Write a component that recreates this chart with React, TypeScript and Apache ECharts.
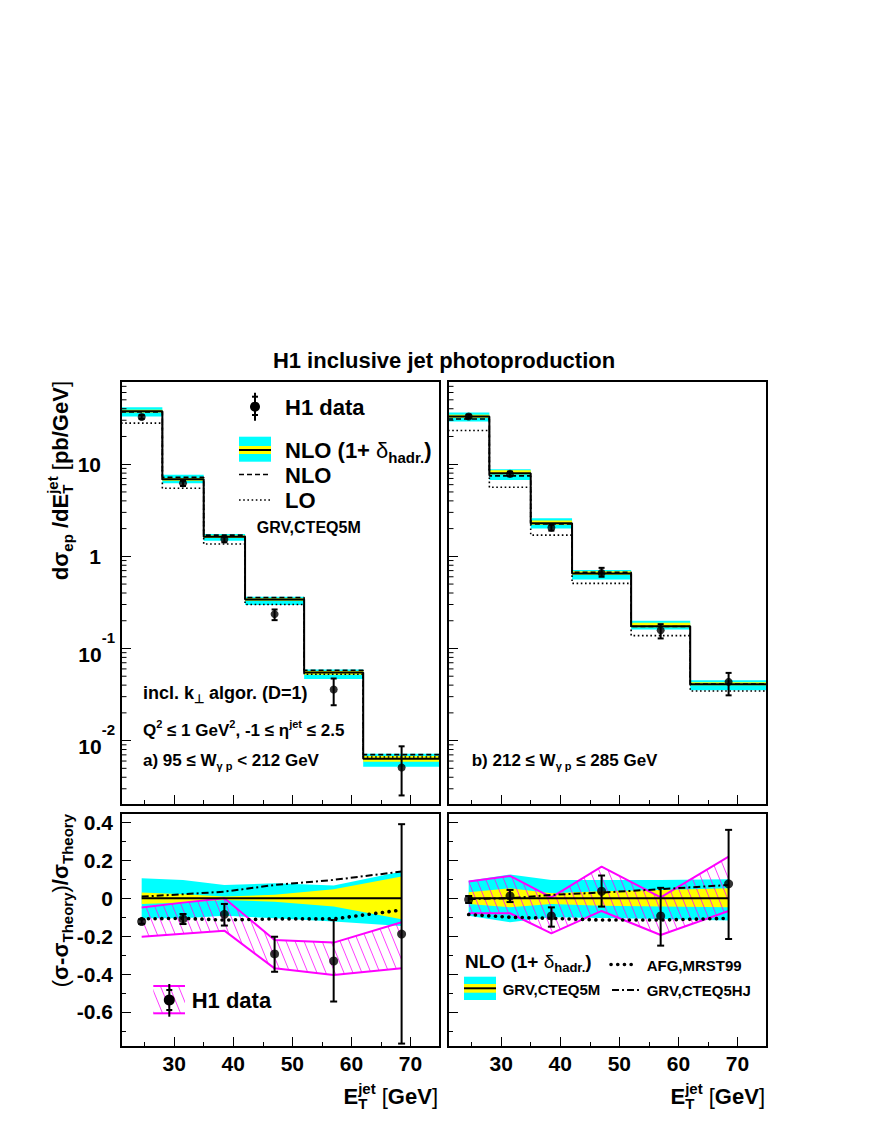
import React, { useEffect, useRef } from 'react';
import * as echarts from 'echarts';

const FONT = '"Liberation Sans", Arial, Helvetica, sans-serif';
const CYAN = '#00ffff';
const YELLOW = '#ffff00';
const MAGENTA = '#ff00ff';

// ---------- data ----------
const EDGES = [21, 28, 35, 42, 52, 62, 75];
const XPTS = [24.5, 31.5, 38.5, 47, 57, 68.5];
const X_MAJOR = [30, 40, 50, 60, 70];
const X_MINOR = [25, 35, 45, 55, 65];
const R_MAJOR = [-0.6, -0.4, -0.2, 0, 0.2, 0.4];
const R_MINOR = [-0.7, -0.5, -0.3, -0.1, 0.1, 0.3];
const LOG_DECADES = [0.001, 0.01, 0.1, 1, 10];
const LOG_MULT = [2, 3, 4, 5, 6, 7, 8, 9];
const X_MIN = 21, X_MAX = 75;
const LOG_MIN = 0.002, LOG_MAX = 80;
const R_MIN = -0.785, R_MAX = 0.45;

// a) 95 <= W < 212 GeV
const A_NLOHAD = [37.5, 6.87, 1.63, 0.341, 0.0548, 0.00637];
const A_CYAN_LO = [33.0, 6.2, 1.48, 0.296, 0.0465, 0.0052];
const A_CYAN_HI = [41.5, 7.66, 1.75, 0.364, 0.059, 0.0072];
const A_YEL_LO = [36.5, 6.6, 1.58, 0.33, 0.052, 0.0059];
const A_YEL_HI = [39.0, 7.1, 1.68, 0.35, 0.057, 0.0068];
const A_NLO = [37.0, 7.2, 1.70, 0.358, 0.058, 0.00705];
const A_LO = [27.9, 5.48, 1.36, 0.30, 0.0525, 0.00664];
const A_DATA = [32.6, 6.2, 1.53, 0.236, 0.0358, 0.0051];
const A_ERR_LO = [31.0, 5.8, 1.42, 0.203, 0.0242, 0.00254];
const A_ERR_HI = [34.2, 6.6, 1.64, 0.265, 0.0472, 0.00867];

// b) 212 <= W <= 285 GeV
const B_NLOHAD = [32.9, 7.98, 2.28, 0.653, 0.1746, 0.0409];
const B_CYAN_LO = [29.0, 6.75, 2.01, 0.562, 0.161, 0.0352];
const B_CYAN_HI = [36.4, 8.83, 2.59, 0.71, 0.1995, 0.0452];
const B_YEL_LO = [32.0, 7.8, 2.2, 0.63, 0.17, 0.040];
const B_YEL_HI = [34.5, 8.6, 2.45, 0.69, 0.19, 0.043];
const B_NLO = [31.0, 7.47, 2.24, 0.67, 0.173, 0.0412];
const B_LO = [23.2, 5.62, 1.70, 0.509, 0.138, 0.0346];
const B_DATA = [32.9, 7.85, 2.05, 0.66, 0.158, 0.0434];
const B_ERR_LO = [31.5, 7.4, 1.9, 0.6, 0.1285, 0.031];
const B_ERR_HI = [34.5, 8.3, 2.2, 0.75, 0.1835, 0.0543];

// ratio panels
const REF_ZERO = [0, 0, 0, 0, 0, 0];
const C_CYAN_HI = [0.106, 0.097, 0.07, 0.079, 0.067, 0.141];
const C_CYAN_LO = [-0.106, -0.106, -0.092, -0.106, -0.123, -0.146];
const C_YEL_HI = [0.03, 0.021, 0.009, 0.018, 0.048, 0.115];
const C_YEL_LO = [-0.03, -0.023, -0.009, -0.018, -0.044, -0.111];
const C_HJ = [0.009, 0.021, 0.035, 0.07, 0.097, 0.141];
const C_AFG = [-0.109, -0.106, -0.115, -0.109, -0.109, -0.062];
const C_DATA = [-0.123, -0.109, -0.085, -0.294, -0.331, -0.189];
const C_ERR_LO = [-0.135, -0.136, -0.144, -0.388, -0.545, -0.767];
const C_ERR_HI = [-0.111, -0.083, -0.03, -0.203, -0.115, 0.391];
const C_SYS_HI = [-0.049, -0.023, 0.0, -0.22, -0.234, -0.127];
const C_SYS_LO = [-0.203, -0.187, -0.171, -0.37, -0.405, -0.37];

const D_CYAN_HI = [0.093, 0.125, 0.097, 0.097, 0.097, 0.1];
const D_CYAN_LO = [-0.092, -0.127, -0.1, -0.104, -0.109, -0.118];
const D_YEL_HI = [0.032, 0.053, 0.026, 0.037, 0.044, 0.053];
const D_YEL_LO = [-0.03, -0.048, -0.03, -0.039, -0.044, -0.048];
const D_HJ = [-0.004, 0.0, 0.018, 0.03, 0.048, 0.07];
const D_AFG = [-0.086, -0.1, -0.106, -0.115, -0.115, -0.106];
const D_DATA = [-0.007, 0.012, -0.093, 0.037, -0.093, 0.076];
const D_ERR_LO = [-0.025, -0.02, -0.15, -0.044, -0.25, -0.215];
const D_ERR_HI = [0.012, 0.044, -0.048, 0.12, 0.055, 0.361];
const D_SYS_HI = [0.088, 0.118, 0.005, 0.167, 0.005, 0.22];
const D_SYS_LO = [-0.079, -0.079, -0.185, -0.067, -0.194, -0.067];

// ---------- layout ----------
const GRIDS = [
  { left: 121, top: 381, width: 319, height: 424 },
  { left: 448, top: 381, width: 319, height: 424 },
  { left: 121, top: 813, width: 319, height: 234 },
  { left: 448, top: 813, width: 319, height: 234 },
];

let mctx: CanvasRenderingContext2D | null = null;
function fontStr(size: number, bold: boolean) {
  return `${bold ? 'bold ' : ''}${size}px ${FONT}`;
}
function tw(t: string, size: number, bold: boolean) {
  if (!mctx) mctx = document.createElement('canvas').getContext('2d');
  mctx!.font = fontStr(size, bold);
  return mctx!.measureText(t).width;
}

type Run = { t: string; s: number; dy?: number; stack?: boolean; bold?: boolean };
function runText(runs: Run[], x: number, y: number, anchor: 'left' | 'right' | 'center' = 'left', rotate = false): any {
  const children: any[] = [];
  let cur = 0, lastStart = 0, lastW = 0;
  for (const r of runs) {
    const bold = r.bold !== false;
    const w = tw(r.t, r.s, bold);
    let px: number;
    if (r.stack) {
      px = lastStart;
      const m = Math.max(lastW, w);
      cur = lastStart + m;
      lastW = m;
    } else {
      px = cur;
      lastStart = cur;
      lastW = w;
      cur += w;
    }
    children.push({
      type: 'text', x: px, y: r.dy || 0,
      style: {
        text: r.t, font: fontStr(r.s, bold), fill: '#000',
        textAlign: 'left', textVerticalAlign: 'middle', align: 'left', verticalAlign: 'middle',
      },
    });
  }
  const off = anchor === 'right' ? -cur : anchor === 'center' ? -cur / 2 : 0;
  children.forEach((c) => (c.x += off));
  return { type: 'group', x, y, rotation: rotate ? Math.PI / 2 : 0, z: 100, children };
}

function histo(vals: number[]) {
  const pts: number[][] = [];
  vals.forEach((v, i) => {
    pts.push([EDGES[i], v], [EDGES[i + 1], v]);
  });
  return pts;
}

function makeHatch() {
  const w = 9, h = 22;
  const c = document.createElement('canvas');
  c.width = w;
  c.height = h;
  const g = c.getContext('2d')!;
  g.strokeStyle = 'rgba(255,0,255,0.85)';
  g.lineWidth = 0.9;
  for (const o of [-w, 0, w]) {
    g.beginPath();
    g.moveTo(o, 0);
    g.lineTo(o + w, h);
    g.stroke();
  }
  return { image: c.toDataURL(), repeat: 'repeat', imageWidth: w, imageHeight: h };
}

const TICK_STYLE = { color: '#000', width: 1 };
const LABEL_BASE = { color: '#000', fontFamily: FONT, fontWeight: 'bold', fontSize: 21 };

function errBars(xi: number, yi: number, lo: number[], hi: number[], cap: number) {
  return {
    type: 'custom', xAxisIndex: xi, yAxisIndex: yi, z: 8, clip: true,
    data: XPTS.map((x, i) => [x, lo[i], hi[i]]),
    encode: { x: 0, y: [1, 2] },
    renderItem: (_p: any, api: any) => {
      const x = api.value(0);
      const a = api.coord([x, api.value(1)]);
      const b = api.coord([x, api.value(2)]);
      const st = { stroke: '#000', lineWidth: 2 };
      return {
        type: 'group',
        children: [
          { type: 'line', shape: { x1: a[0], y1: a[1], x2: b[0], y2: b[1] }, style: st },
          { type: 'line', shape: { x1: a[0] - cap, y1: a[1], x2: a[0] + cap, y2: a[1] }, style: st },
          { type: 'line', shape: { x1: b[0] - cap, y1: b[1], x2: b[0] + cap, y2: b[1] }, style: st },
        ],
      };
    },
  };
}

function topSeries(gi: number, yi: number, d: any) {
  const xi = gi * 2;
  const minorTicks: number[][] = [];
  LOG_DECADES.forEach((dec) =>
    LOG_MULT.forEach((m) => {
      const v = dec * m;
      if (v > LOG_MIN && v < LOG_MAX) minorTicks.push([v]);
    })
  );
  return [
    {
      type: 'custom', xAxisIndex: xi, yAxisIndex: yi, z: 1, clip: true,
      data: d.nlohad.map((_v: number, i: number) => [EDGES[i], EDGES[i + 1], d.cLo[i], d.cHi[i], d.yLo[i], d.yHi[i]]),
      encode: { x: [0, 1], y: [2, 3, 4, 5] },
      renderItem: (_p: any, api: any) => {
        const x0 = api.value(0), x1 = api.value(1);
        const c1 = api.coord([x0, api.value(3)]);
        const c2 = api.coord([x1, api.value(2)]);
        const y1 = api.coord([x0, api.value(5)]);
        const y2 = api.coord([x1, api.value(4)]);
        return {
          type: 'group',
          children: [
            { type: 'rect', shape: { x: c1[0], y: c1[1], width: c2[0] - c1[0], height: c2[1] - c1[1] }, style: { fill: CYAN } },
            { type: 'rect', shape: { x: y1[0], y: y1[1], width: y2[0] - y1[0], height: y2[1] - y1[1] }, style: { fill: YELLOW } },
          ],
        };
      },
    },
    {
      type: 'line', xAxisIndex: xi, yAxisIndex: yi, z: 3, data: histo(d.lo), showSymbol: false, symbol: 'none',
      lineStyle: { color: '#000', width: 1.6, type: [1.6, 2.6] },
    },
    {
      type: 'line', xAxisIndex: xi, yAxisIndex: yi, z: 4, data: histo(d.nlo), showSymbol: false, symbol: 'none',
      lineStyle: { color: '#000', width: 1.6, type: [5, 3] },
    },
    {
      type: 'line', xAxisIndex: xi, yAxisIndex: yi, z: 5, data: histo(d.nlohad), showSymbol: false, symbol: 'none',
      lineStyle: { color: '#000', width: 2 },
    },
    errBars(xi, yi, d.errLo, d.errHi, 3),
    {
      type: 'scatter', xAxisIndex: xi, yAxisIndex: yi, z: 9, symbol: 'circle', symbolSize: 8,
      itemStyle: { color: '#000' }, data: XPTS.map((x, i) => [x, d.data[i]]),
    },
    {
      type: 'custom', xAxisIndex: xi, yAxisIndex: yi, z: 10, clip: false,
      data: minorTicks, encode: { y: 0 },
      renderItem: (_p: any, api: any) => {
        const p = api.coord([X_MIN, api.value(0)]);
        return { type: 'line', shape: { x1: p[0], y1: p[1], x2: p[0] + 5.5, y2: p[1] }, style: { stroke: '#000', lineWidth: 1 } };
      },
    },
  ];
}

function polySeries(xi: number, yi: number, lo: number[], hi: number[], fill: any, z: number) {
  return {
    type: 'custom', xAxisIndex: xi, yAxisIndex: yi, z, clip: true,
    data: XPTS.map((x, i) => [x, lo[i], hi[i]]),
    encode: { x: 0, y: [1, 2] },
    renderItem: (params: any, api: any) => {
      if (params.dataIndexInside !== 0) return null;
      const n = params.dataInsideLength;
      const top: number[][] = [];
      const bot: number[][] = [];
      for (let j = 0; j < n; j++) {
        const x = api.value(0, j);
        top.push(api.coord([x, api.value(2, j)]));
        bot.push(api.coord([x, api.value(1, j)]));
      }
      return { type: 'polygon', shape: { points: top.concat(bot.reverse()) }, style: { fill } };
    },
  };
}

function botSeries(gi: number, yi: number, d: any, hatch: any) {
  const xi = gi * 2;
  const line = (vals: number[], style: any, z: number) => ({
    type: 'line', xAxisIndex: xi, yAxisIndex: yi, z, showSymbol: false, symbol: 'none',
    data: XPTS.map((x, i) => [x, vals[i]]), lineStyle: style,
  });
  return [
    polySeries(xi, yi, d.cLo, d.cHi, CYAN, 1),
    polySeries(xi, yi, d.yLo, d.yHi, YELLOW, 2),
    polySeries(xi, yi, d.sLo, d.sHi, hatch, 3),
    line(d.sHi, { color: MAGENTA, width: 2 }, 4),
    line(d.sLo, { color: MAGENTA, width: 2 }, 4),
    line(REF_ZERO, { color: '#000', width: 2 }, 5),
    line(d.hj, { color: '#000', width: 2, type: [7, 3, 2, 3] }, 6),
    line(d.afg, { color: '#000', width: 3.6, type: [0.1, 6.6], cap: 'round' }, 6),
    errBars(xi, yi, d.errLo, d.errHi, 3.5),
    {
      type: 'scatter', xAxisIndex: xi, yAxisIndex: yi, z: 9, symbol: 'circle', symbolSize: 9,
      itemStyle: { color: '#000' }, data: XPTS.map((x, i) => [x, d.data[i]]),
    },
  ];
}

function logFmt(v: number) {
  const l = Math.log10(v);
  const e = Math.round(l);
  if (Math.abs(l - e) > 1e-6) return '';
  if (e === 1) return '{p|10}';
  if (e === 0) return '{p|1}';
  return `{b|10}{s|${e}}`;
}

function buildOption() {
  const hatch = makeHatch();
  const xAxis: any[] = [];
  GRIDS.forEach((_g, gi) => {
    xAxis.push({
      type: 'value', gridIndex: gi, min: X_MIN, max: X_MAX, position: 'bottom',
      axisLine: { show: false, onZero: false }, splitLine: { show: false },
      axisTick: { show: true, inside: true, length: 10, customValues: X_MAJOR, lineStyle: TICK_STYLE },
      axisLabel: { show: gi >= 2, customValues: X_MAJOR, margin: 6, ...LABEL_BASE },
    });
    xAxis.push({
      type: 'value', gridIndex: gi, min: X_MIN, max: X_MAX, position: 'bottom',
      axisLine: { show: false, onZero: false }, splitLine: { show: false },
      axisTick: { show: true, inside: true, length: 5, customValues: X_MINOR, lineStyle: TICK_STYLE },
      axisLabel: { show: false },
    });
  });

  const logAxis = (gi: number, showLabel: boolean) => ({
    type: 'log', logBase: 10, gridIndex: gi, min: LOG_MIN, max: LOG_MAX, position: 'left',
    axisLine: { show: false, onZero: false }, splitLine: { show: false }, minorTick: { show: false },
    axisTick: { show: true, inside: true, length: 10, lineStyle: TICK_STYLE },
    axisLabel: {
      show: showLabel, margin: 6, showMinLabel: false, showMaxLabel: false, formatter: logFmt,
      rich: {
        p: { ...LABEL_BASE, padding: [0, 14, 0, 0] },
        b: { ...LABEL_BASE, padding: [12, 0, 0, 0] },
        s: { ...LABEL_BASE, fontSize: 15, padding: [0, 0, 22, 0] },
      },
    },
  });
  const linAxis = (gi: number, showLabel: boolean, ticks: number[], len: number) => ({
    type: 'value', gridIndex: gi, min: R_MIN, max: R_MAX, position: 'left',
    axisLine: { show: false, onZero: false }, splitLine: { show: false },
    axisTick: { show: true, inside: true, length: len, customValues: ticks, lineStyle: TICK_STYLE },
    axisLabel: { show: showLabel, customValues: ticks, margin: 8, ...LABEL_BASE },
  });
  const yAxis = [
    logAxis(0, true),
    logAxis(1, false),
    linAxis(2, true, R_MAJOR, 10),
    linAxis(2, false, R_MINOR, 5),
    linAxis(3, false, R_MAJOR, 10),
    linAxis(3, false, R_MINOR, 5),
  ];

  const series = [
    ...topSeries(0, 0, {
      nlohad: A_NLOHAD, cLo: A_CYAN_LO, cHi: A_CYAN_HI, yLo: A_YEL_LO, yHi: A_YEL_HI,
      nlo: A_NLO, lo: A_LO, data: A_DATA, errLo: A_ERR_LO, errHi: A_ERR_HI,
    }),
    ...topSeries(1, 1, {
      nlohad: B_NLOHAD, cLo: B_CYAN_LO, cHi: B_CYAN_HI, yLo: B_YEL_LO, yHi: B_YEL_HI,
      nlo: B_NLO, lo: B_LO, data: B_DATA, errLo: B_ERR_LO, errHi: B_ERR_HI,
    }),
    ...botSeries(2, 2, {
      cLo: C_CYAN_LO, cHi: C_CYAN_HI, yLo: C_YEL_LO, yHi: C_YEL_HI, sLo: C_SYS_LO, sHi: C_SYS_HI,
      hj: C_HJ, afg: C_AFG, data: C_DATA, errLo: C_ERR_LO, errHi: C_ERR_HI,
    }, hatch),
    ...botSeries(3, 4, {
      cLo: D_CYAN_LO, cHi: D_CYAN_HI, yLo: D_YEL_LO, yHi: D_YEL_HI, sLo: D_SYS_LO, sHi: D_SYS_HI,
      hj: D_HJ, afg: D_AFG, data: D_DATA, errLo: D_ERR_LO, errHi: D_ERR_HI,
    }, hatch),
  ];

  const blk = { stroke: '#000', lineWidth: 2 };
  const g: any[] = [];
  // frames
  GRIDS.forEach((gr) => {
    g.push({ type: 'rect', z: 100, shape: { x: gr.left, y: gr.top, width: gr.width, height: gr.height }, style: { fill: 'none', stroke: '#000', lineWidth: 2 } });
  });
  // title
  g.push(runText([{ t: 'H1 inclusive jet photoproduction', s: 22 }], 444, 360, 'center'));
  // y titles
  g.push(runText([
    { t: 'd', s: 22 }, { t: 'σ', s: 22 }, { t: 'ep', s: 15, dy: 7 }, { t: ' /dE', s: 22 },
    { t: 'jet', s: 15, dy: -8 }, { t: 'T', s: 15, dy: 7, stack: true }, { t: ' [', s: 22, bold: false },
    { t: 'pb/GeV', s: 22 }, { t: ']', s: 22, bold: false },
  ], 60, 381, 'right', true));
  g.push(runText([
    { t: '(', s: 22, bold: false }, { t: 'σ-σ', s: 22 }, { t: 'Theory', s: 15, dy: 7 },
    { t: ')', s: 22, bold: false }, { t: '/σ', s: 22 }, { t: 'Theory', s: 15, dy: 7 },
  ], 60, 814, 'right', true));
  // x titles
  [438, 765].forEach((xr) => {
    g.push(runText([
      { t: 'E', s: 22 }, { t: 'jet', s: 15, dy: -8 }, { t: 'T', s: 15, dy: 7, stack: true },
      { t: ' [', s: 22, bold: false }, { t: 'GeV', s: 22 }, { t: ']', s: 22, bold: false },
    ], xr, 1096, 'right'));
  });

  // top-left legend
  g.push({ type: 'line', z: 100, shape: { x1: 255, y1: 392.7, x2: 255, y2: 420.7 }, style: blk });
  g.push({ type: 'line', z: 100, shape: { x1: 252, y1: 396.7, x2: 258, y2: 396.7 }, style: blk });
  g.push({ type: 'line', z: 100, shape: { x1: 252, y1: 415, x2: 258, y2: 415 }, style: blk });
  g.push({ type: 'circle', z: 100, shape: { cx: 255, cy: 406.7, r: 5 }, style: { fill: '#000' } });
  g.push(runText([{ t: 'H1 data', s: 22 }], 285, 407));
  g.push({ type: 'rect', z: 100, shape: { x: 239, y: 436.7, width: 32, height: 25 }, style: { fill: CYAN } });
  g.push({ type: 'rect', z: 100, shape: { x: 239, y: 446, width: 32, height: 8 }, style: { fill: YELLOW } });
  g.push({ type: 'line', z: 100, shape: { x1: 239, y1: 450, x2: 271, y2: 450 }, style: blk });
  g.push(runText([
    { t: 'NLO (1+ ', s: 22 }, { t: 'δ', s: 22, bold: false }, { t: 'hadr.', s: 15, dy: 7 }, { t: ')', s: 22 },
  ], 285, 450));
  g.push({ type: 'line', z: 100, shape: { x1: 239, y1: 474.5, x2: 271, y2: 474.5 }, style: { stroke: '#000', lineWidth: 1.6, lineDash: [5, 3] } });
  g.push(runText([{ t: 'NLO', s: 22 }], 285, 475));
  g.push({ type: 'line', z: 100, shape: { x1: 239, y1: 500, x2: 271, y2: 500 }, style: { stroke: '#000', lineWidth: 1.6, lineDash: [1.6, 2.6] } });
  g.push(runText([{ t: 'LO', s: 22 }], 285, 500));
  g.push(runText([{ t: 'GRV,CTEQ5M', s: 16 }], 256.7, 527));

  // top-left annotations
  g.push(runText([{ t: 'incl. k', s: 18 }, { t: '⊥', s: 12, dy: 6 }, { t: ' algor. (D=1)', s: 18 }], 143, 693));
  g.push(runText([
    { t: 'Q', s: 17 }, { t: '2', s: 11, dy: -7 }, { t: ' ≤ 1 GeV', s: 17 }, { t: '2', s: 11, dy: -7 },
    { t: ', -1 ≤ η', s: 17 }, { t: 'jet', s: 11, dy: -7 }, { t: ' ≤ 2.5', s: 17 },
  ], 143, 730.7));
  g.push(runText([{ t: 'a) 95 ≤ W', s: 17 }, { t: 'γ p', s: 11, dy: 6 }, { t: ' < 212 GeV', s: 17 }], 143, 760));
  g.push(runText([{ t: 'b) 212 ≤ W', s: 17 }, { t: 'γ p', s: 11, dy: 6 }, { t: ' ≤ 285 GeV', s: 17 }], 471.7, 760));

  // bottom-left legend
  g.push({ type: 'rect', z: 100, shape: { x: 153.3, y: 986, width: 31.7, height: 27.3 }, style: { fill: hatch } });
  g.push({ type: 'line', z: 100, shape: { x1: 153.3, y1: 986, x2: 185, y2: 986 }, style: { stroke: MAGENTA, lineWidth: 2 } });
  g.push({ type: 'line', z: 100, shape: { x1: 153.3, y1: 1013.3, x2: 185, y2: 1013.3 }, style: { stroke: MAGENTA, lineWidth: 2 } });
  g.push({ type: 'line', z: 101, shape: { x1: 169.3, y1: 984, x2: 169.3, y2: 1016.7 }, style: blk });
  g.push({ type: 'line', z: 101, shape: { x1: 166.3, y1: 990, x2: 172.3, y2: 990 }, style: blk });
  g.push({ type: 'line', z: 101, shape: { x1: 166.3, y1: 1010, x2: 172.3, y2: 1010 }, style: blk });
  g.push({ type: 'circle', z: 101, shape: { cx: 169.3, cy: 1000, r: 5.5 }, style: { fill: '#000' } });
  g.push(runText([{ t: 'H1 data', s: 22 }], 191.7, 1000));

  // bottom-right legend
  g.push(runText([
    { t: 'NLO (1+ ', s: 19 }, { t: 'δ', s: 19, bold: false }, { t: 'hadr.', s: 13, dy: 6 }, { t: ')', s: 19 },
  ], 465, 961.7));
  g.push({ type: 'rect', z: 100, shape: { x: 464, y: 976.7, width: 32, height: 23.3 }, style: { fill: CYAN } });
  g.push({ type: 'rect', z: 100, shape: { x: 464, y: 984, width: 32, height: 8.7 }, style: { fill: YELLOW } });
  g.push({ type: 'line', z: 100, shape: { x1: 464, y1: 988.3, x2: 496, y2: 988.3 }, style: blk });
  g.push(runText([{ t: 'GRV,CTEQ5M', s: 15 }], 502.7, 989.3));
  g.push({ type: 'line', z: 100, shape: { x1: 611, y1: 964.5, x2: 637, y2: 964.5 }, style: { stroke: '#000', lineWidth: 3.6, lineDash: [0.1, 6.6], lineCap: 'round' } });
  g.push(runText([{ t: 'AFG,MRST99', s: 15 }], 646.7, 965.7));
  g.push({ type: 'line', z: 100, shape: { x1: 612, y1: 990, x2: 640, y2: 990 }, style: { stroke: '#000', lineWidth: 2, lineDash: [7, 3, 2, 3] } });
  g.push(runText([{ t: 'GRV,CTEQ5HJ', s: 15 }], 646.7, 990));

  return {
    animation: false,
    backgroundColor: '#fff',
    grid: GRIDS.map((gr) => ({ ...gr, show: false, containLabel: false, outerBoundsMode: 'none' })),
    xAxis,
    yAxis,
    series,
    graphic: { elements: g },
  };
}

export default function App() {
  const ref = useRef<HTMLDivElement>(null);
  useEffect(() => {
    const chart = echarts.init(ref.current!, null, { renderer: 'svg' });
    chart.setOption(buildOption() as any);
    return () => chart.dispose();
  }, []);
  return (
    <div
      ref={ref}
      style={{ position: 'absolute', left: 0, top: 0, width: 872, height: 1128, background: '#fff' }}
    />
  );
}
